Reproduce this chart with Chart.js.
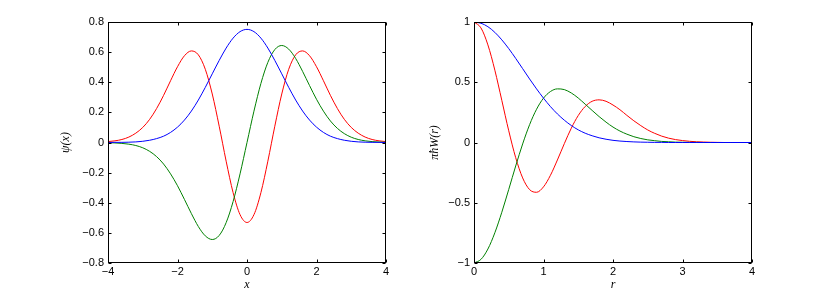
<!DOCTYPE html>
<html>
<head>
<meta charset="utf-8">
<script src="https://cdn.jsdelivr.net/npm/chart.js@4/dist/chart.umd.min.js"></script>
<style>
  body { margin: 0; background: #fff; width: 830px; height: 297px; position: relative; overflow: hidden; }
  canvas { position: absolute; top: 0; }
  #left { left: 0; }
  #right { left: 415px; }
</style>
</head>
<body>
<canvas id="left" width="415" height="297"></canvas>
<canvas id="right" width="415" height="297"></canvas>
<script>
// left panel: first three oscillator eigenfunctions
const xVals = [-4.0, -3.8, -3.6, -3.4, -3.2, -3.0, -2.8, -2.6, -2.4, -2.2, -2.0, -1.8, -1.6, -1.4, -1.2, -1.0, -0.8, -0.6, -0.4, -0.2,
  0, 0.2, 0.4, 0.6, 0.8, 1.0, 1.2, 1.4, 1.6, 1.8, 2.0, 2.2, 2.4, 2.6, 2.8, 3.0, 3.2, 3.4, 3.6, 3.8, 4.0];
const psi0 = [0.000, 0.001, 0.001, 0.002, 0.004, 0.008, 0.015, 0.026, 0.042, 0.067, 0.102, 0.149, 0.209, 0.282, 0.366, 0.456, 0.545, 0.627, 0.693, 0.736,
  0.751, 0.736, 0.693, 0.627, 0.545, 0.456, 0.366, 0.282, 0.209, 0.149, 0.102, 0.067, 0.042, 0.026, 0.015, 0.008, 0.004, 0.002, 0.001, 0.001, 0.000];
const psi1 = [-0.001, -0.003, -0.006, -0.011, -0.020, -0.035, -0.059, -0.094, -0.143, -0.208, -0.287, -0.378, -0.472, -0.558, -0.620, -0.644, -0.617, -0.532, -0.392, -0.208,
  0, 0.208, 0.392, 0.532, 0.617, 0.644, 0.620, 0.558, 0.472, 0.378, 0.287, 0.208, 0.143, 0.094, 0.059, 0.035, 0.020, 0.011, 0.006, 0.003, 0.001];
const psi2 = [0.006, 0.011, 0.020, 0.036, 0.062, 0.100, 0.154, 0.226, 0.313, 0.410, 0.503, 0.576, 0.608, 0.582, 0.486, 0.322, 0.108, -0.124, -0.333, -0.479,
  -0.531, -0.479, -0.333, -0.124, 0.108, 0.322, 0.486, 0.582, 0.608, 0.576, 0.503, 0.410, 0.313, 0.226, 0.154, 0.100, 0.062, 0.036, 0.020, 0.011, 0.006];

// right panel: Wigner functions vs radius
const rVals = [0, 0.1, 0.2, 0.3, 0.4, 0.5, 0.6, 0.7, 0.8, 0.9, 1.0, 1.1, 1.2, 1.3, 1.4, 1.5, 1.6, 1.7, 1.8, 1.9,
  2.0, 2.1, 2.2, 2.3, 2.4, 2.5, 2.6, 2.7, 2.8, 2.9, 3.0, 3.1, 3.2, 3.3, 3.4, 3.5, 3.6, 3.7, 3.8, 3.9, 4.0];
const w0 = [1, 0.990, 0.961, 0.914, 0.852, 0.779, 0.698, 0.613, 0.527, 0.445, 0.368, 0.298, 0.237, 0.185, 0.141, 0.105, 0.077, 0.056, 0.039, 0.027,
  0.018, 0.012, 0.008, 0.005, 0.003, 0.002, 0.001, 0.001, 0, 0, 0, 0, 0, 0, 0, 0, 0, 0, 0, 0, 0];
const w1 = [-1, -0.970, -0.884, -0.749, -0.579, -0.389, -0.195, -0.012, 0.148, 0.276, 0.368, 0.423, 0.445, 0.439, 0.411, 0.369, 0.318, 0.266, 0.215, 0.169,
  0.128, 0.095, 0.069, 0.048, 0.033, 0.022, 0.015, 0.009, 0.006, 0.003, 0.002, 0.001, 0.001, 0, 0, 0, 0, 0, 0, 0, 0];
const w2 = [1, 0.951, 0.810, 0.600, 0.350, 0.097, -0.126, -0.294, -0.391, -0.413, -0.368, -0.272, -0.145, -0.009, 0.119, 0.224, 0.299, 0.342, 0.354, 0.342,
  0.311, 0.272, 0.225, 0.180, 0.140, 0.104, 0.076, 0.053, 0.036, 0.024, 0.016, 0.010, 0.006, 0.004, 0.002, 0.001, 0, 0, 0, 0, 0];

const leftXTicks = [-4, -2, 0, 2, 4];
const leftYTicks = [-0.8, -0.6, -0.4, -0.2, 0, 0.2, 0.4, 0.6, 0.8];
const rightXTicks = [0, 1, 2, 3, 4];
const rightYTicks = [-1, -0.5, 0, 0.5, 1];

const colors = ['#0000ff', '#008000', '#ff0000'];
const tickFont = { family: 'Liberation Sans', size: 11 };
const titleFont = { family: 'Liberation Serif', size: 12, style: 'italic' };

// matlab style box with inward ticks on all four sides
const boxTicks = {
  id: 'boxTicks',
  afterDatasetsDraw(chart) {
    const { ctx, chartArea: a, scales: { x, y } } = chart;
    const L = Math.round(a.left) + 0.5, R = Math.round(a.right) - 0.5;
    const T = Math.round(a.top) + 0.5, B = Math.round(a.bottom) - 0.5;
    ctx.save();
    ctx.strokeStyle = '#000';
    ctx.lineWidth = 1;
    ctx.beginPath();
    x.ticks.forEach(t => {
      const px = Math.round(x.getPixelForValue(t.value)) + 0.5;
      ctx.moveTo(px, B); ctx.lineTo(px, B - 3);
      ctx.moveTo(px, T); ctx.lineTo(px, T + 3);
    });
    y.ticks.forEach(t => {
      const py = Math.round(y.getPixelForValue(t.value)) + 0.5;
      ctx.moveTo(L, py); ctx.lineTo(L + 3, py);
      ctx.moveTo(R, py); ctx.lineTo(R - 3, py);
    });
    ctx.stroke();
    ctx.strokeRect(L, T, R - L, B - T);
    ctx.restore();
  }
};

const fmt = v => String(v).replace('-', '\u2212');

function makeChart(id, xs, series, xTicks, yTicks, xTitle, yTitle, yAxisW, rightPad, yTitlePad) {
  return new Chart(document.getElementById(id), {
    type: 'line',
    data: {
      datasets: series.map((s, i) => ({
        data: xs.map((v, k) => ({ x: v, y: s[k] })),
        borderColor: colors[i],
        borderWidth: 1,
        pointRadius: 0,
        cubicInterpolationMode: 'monotone',
        fill: false
      }))
    },
    options: {
      responsive: false,
      animation: false,
      devicePixelRatio: 1,
      layout: { padding: { top: 22, right: rightPad, left: 0, bottom: 0 } },
      plugins: { legend: { display: false }, tooltip: { enabled: false } },
      scales: {
        x: {
          type: 'linear',
          min: xTicks[0], max: xTicks[xTicks.length - 1],
          afterBuildTicks: s => { s.ticks = xTicks.map(v => ({ value: v })); },
          afterFit: s => { s.height = 34; },
          grid: { display: false, drawTicks: false },
          border: { display: false },
          ticks: { font: tickFont, color: '#000', padding: 2, maxRotation: 0, callback: fmt },
          title: { display: true, text: xTitle, font: titleFont, color: '#000', padding: { top: 0, bottom: 5 } }
        },
        y: {
          type: 'linear',
          min: yTicks[0], max: yTicks[yTicks.length - 1],
          afterBuildTicks: s => { s.ticks = yTicks.map(v => ({ value: v })); },
          afterFit: s => { s.width = yAxisW; },
          grid: { display: false, drawTicks: false },
          border: { display: false },
          ticks: { font: tickFont, color: '#000', padding: 4, callback: fmt },
          title: { display: true, text: yTitle, font: titleFont, color: '#000', padding: { top: yTitlePad, bottom: 0 } }
        }
      }
    },
    plugins: [boxTicks]
  });
}

makeChart('left', xVals, [psi0, psi1, psi2], leftXTicks, leftYTicks, 'x', '\u03C8(x)', 108, 29, 59);
makeChart('right', rVals, [w0, w1, w2], rightXTicks, rightYTicks, 'r', '\u03C0\u0127W(r)', 59, 78, 13);
</script>
</body>
</html>
